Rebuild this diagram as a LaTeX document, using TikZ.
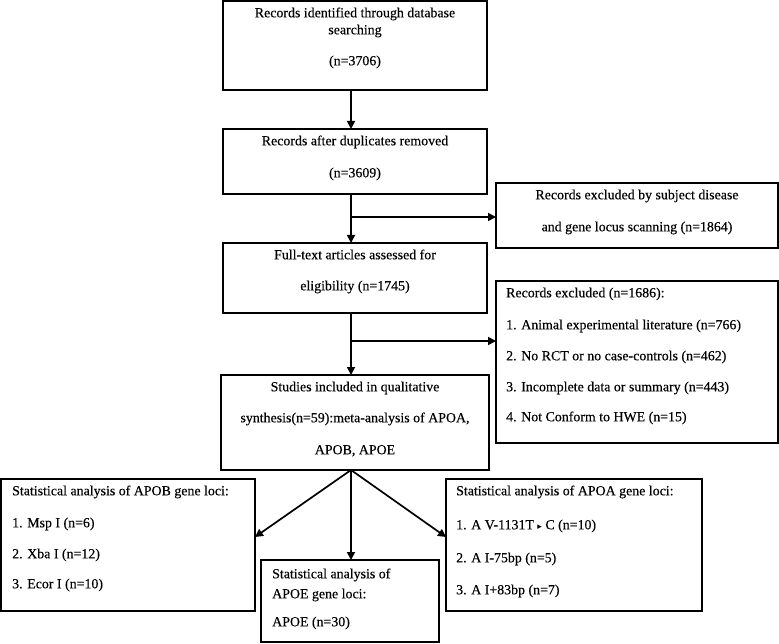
\documentclass[tikz,border=0pt]{standalone}
\usepackage{fontspec}
\setmainfont{Liberation Serif}[FakeBold=0.35]
\newfontfamily\djv{DejaVu Sans}
\usetikzlibrary{arrows.meta}
\begin{document}
\begin{tikzpicture}[x=1pt,y=-1pt,
  box/.style={draw=black,line width=1.8pt,rectangle,inner sep=0pt,outer sep=0pt,anchor=north west},
  txt/.style={inner sep=0pt,anchor=mid,font=\fontsize{13.9}{16}\selectfont},
  ltxt/.style={txt,anchor=mid west},
  conn/.style={line width=1.7pt,draw=black},
  arr/.style={conn,-{Triangle[length=8pt,width=8pt]}}]
\useasboundingbox (0,0) rectangle (779,644);
% boxes
\node[box,minimum width=264pt,minimum height=89pt] (b1) at (223,1) {};
\node[box,minimum width=264pt,minimum height=65pt] (b2) at (223,129) {};
\node[box,minimum width=282pt,minimum height=65pt] (b3) at (496,183) {};
\node[box,minimum width=264pt,minimum height=70pt] (b4) at (223,243) {};
\node[box,minimum width=282pt,minimum height=162pt] (b5) at (496,281) {};
\node[box,minimum width=268pt,minimum height=95pt] (b6) at (221,375) {};
\node[box,minimum width=254pt,minimum height=132pt] (b7) at (1,479) {};
\node[box,minimum width=178pt,minimum height=82pt] (b8) at (261,560) {};
\node[box,minimum width=256pt,minimum height=132pt] (b9) at (446,479) {};
% texts
\node[txt] (t1a) at (355,15) {Records identified through database};
\node[txt] (t1b) at (355,32) {searching};
\node[txt] (t1c) at (355,63) {(n=3706)};
\node[txt] (t2a) at (355,143) {Records after duplicates removed};
\node[txt] (t2b) at (355,175) {(n=3609)};
\node[txt] (t3a) at (637,197) {Records excluded by subject disease};
\node[txt] (t3b) at (637,229) {and gene locus scanning (n=1864)};
\node[txt] (t4a) at (355,257) {Full-text articles assessed for};
\node[txt] (t4b) at (355,288) {eligibility (n=1745)};
\node[ltxt] (t5a) at (506,295) {Records excluded (n=1686):};
\node[ltxt] (t5b) at (506,327) {1. Animal experimental literature (n=766)};
\node[ltxt] (t5c) at (506,358) {2. No RCT or no case-controls (n=462)};
\node[ltxt] (t5d) at (506,389) {3. Incomplete data or summary (n=443)};
\node[ltxt] (t5e) at (506,419) {4. Not Conform to HWE (n=15)};
\node[txt] (t6a) at (355,389) {Studies included in qualitative};
\node[txt] (t6b) at (355,420) {synthesis(n=59):meta-analysis of APOA,};
\node[txt] (t6c) at (355,452) {APOB, APOE};
\node[ltxt] (t7a) at (12,493) {Statistical analysis of APOB gene loci:};
\node[ltxt] (t7b) at (12,525) {1. Msp I (n=6)};
\node[ltxt] (t7c) at (12,556) {2. Xba I (n=12)};
\node[ltxt] (t7d) at (12,586) {3. Ecor I (n=10)};
\node[ltxt] (t8a) at (272,576) {Statistical analysis of};
\node[ltxt] (t8b) at (272,596) {APOE gene loci:};
\node[ltxt] (t8c) at (272,624) {APOE (n=30)};
\node[ltxt] (t9a) at (456,493) {Statistical analysis of APOA gene loci:};
\node[ltxt] (t9b) at (456,527) {1. A V-1131T {\djv\fontsize{9}{9}\selectfont ▸} C (n=10)};
\node[ltxt] (t9c) at (456,560) {2. A I-75bp (n=5)};
\node[ltxt] (t9d) at (456,592) {3. A I+83bp (n=7)};
% connectors
\coordinate (sp) at (351,0);
\coordinate (j1) at (351,217);
\coordinate (j2) at (351,341);
\coordinate (lt) at (255,537);
\coordinate (rt) at (446,537);
\draw[arr] (b1.south -| sp) -- (b2.north -| sp);
\draw[arr] (b2.south -| sp) -- (b4.north -| sp);
\draw[arr] (j1) -- (j1 -| b3.west);
\draw[arr] (b4.south -| sp) -- (b6.north -| sp);
\draw[arr] (j2) -- (j2 -| b5.west);
\draw[arr] (b6.south -| sp) -- (lt -| b7.east);
\draw[arr] (b6.south -| sp) -- (b8.north -| sp);
\draw[arr] (b6.south -| sp) -- (rt -| b9.west);
\end{tikzpicture}
\end{document}
